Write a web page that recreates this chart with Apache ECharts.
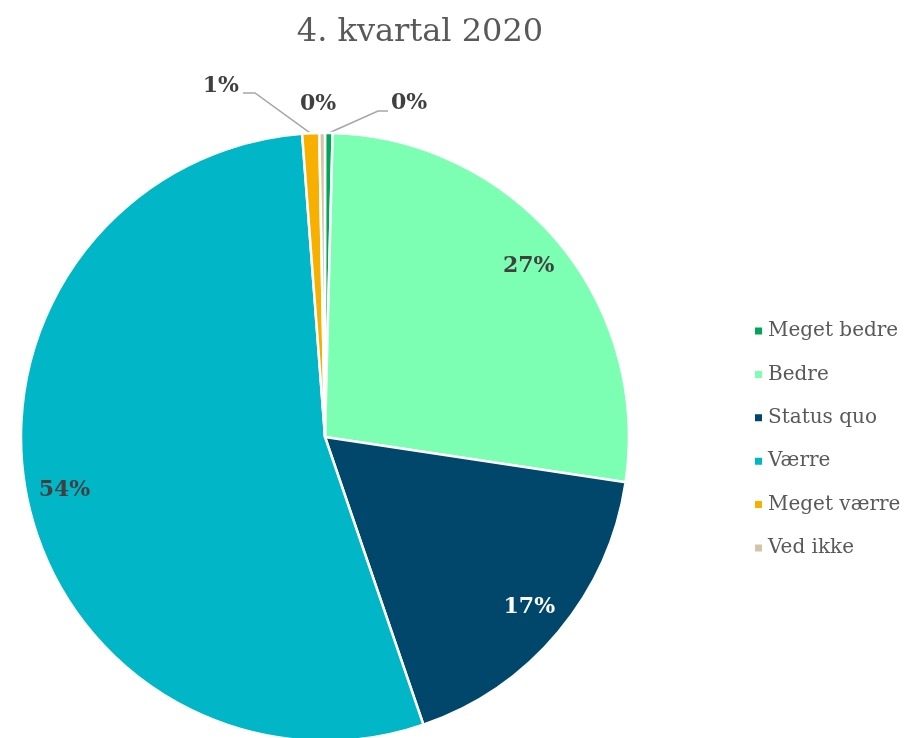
<!DOCTYPE html>
<html>
<head>
<meta charset="utf-8">
<script src="https://cdn.jsdelivr.net/npm/echarts@6/dist/echarts.min.js"></script>
<style>
html,body{margin:0;padding:0;background:#fff;}
#chart{width:904px;height:738px;}
</style>
</head>
<body>
<div id="chart"></div>
<script>
const titleText = '4. kvartal 2020';
const categories = ['Meget bedre', 'Bedre', 'Status quo', 'Værre', 'Meget værre', 'Ved ikke'];
const values = [0.4, 27.0, 17.4, 54.1, 0.9, 0.3];
const colors = ['#00A55A', '#7CFFB2', '#00476B', '#00B6C7', '#F7B000', '#D3C3A7'];
const labelColors = ['#404040', '#404040', '#ffffff', '#404040', '#404040', '#404040'];

const FONT = '"DejaVu Serif", "Liberation Serif", serif';
const CX = 325, CY = 437, R = 304;
const fmt = p => Math.round(p.percent) + '%';
const labelStyle = { fontFamily: FONT, fontWeight: 'bold', fontSize: 22, color: '#404040', formatter: fmt };

const total = values.reduce((a, b) => a + b, 0);
// point on the rim at the middle angle of slice i
function rimPoint(i) {
  let cum = 0;
  for (let k = 0; k < i; k++) cum += values[k];
  const a = (cum + values[i] / 2) / total * 2 * Math.PI;
  return [CX + R * Math.sin(a), CY - R * Math.cos(a)];
}

const mainData = categories.map((name, i) => {
  const item = { name: name, value: values[i], itemStyle: { color: colors[i] } };
  if (i === 0 || i === 4 || i === 5) {
    item.label = { show: true, position: 'outside' };
    item.labelLine = { show: i !== 5 };
  }
  return item;
});
const innerData = categories.map((name, i) => ({
  name: name, value: values[i],
  itemStyle: { color: 'rgba(0,0,0,0)', borderWidth: 0 },
  label: { show: i >= 1 && i <= 3, color: labelColors[i] }
}));

const chart = echarts.init(document.getElementById('chart'), null, { renderer: 'canvas' });
chart.setOption({
  animation: false,
  backgroundColor: '#ffffff',
  color: colors,
  title: {
    text: titleText, left: 415, top: 12, textAlign: 'center',
    textStyle: { fontFamily: FONT, fontWeight: 'normal', fontSize: 32, color: '#595959' }
  },
  legend: {
    orient: 'vertical', left: 748, top: 315,
    itemWidth: 9, itemHeight: 9, itemGap: 21.4,
    icon: 'rect',
    data: categories,
    textStyle: { fontFamily: FONT, fontSize: 20, lineHeight: 22, color: '#595959' }
  },
  series: [
    {
      type: 'pie', name: 'main',
      center: [CX, CY], radius: R,
      startAngle: 90, clockwise: true,
      avoidLabelOverlap: false,
      itemStyle: { borderColor: '#ffffff', borderWidth: 2.5 },
      label: Object.assign({ show: false }, labelStyle),
      labelLine: { lineStyle: { color: '#A6A6A6', width: 1.5 }, smooth: false },
      labelLayout: function (p) {
        const i = p.dataIndex;
        if (i === 0) {
          const s = rimPoint(0);
          return { x: 391, y: 103, align: 'left', verticalAlign: 'middle',
                   labelLinePoints: [s, [378, 111], [388, 111]] };
        }
        if (i === 4) {
          const s = rimPoint(4);
          return { x: 239, y: 86, align: 'right', verticalAlign: 'middle',
                   labelLinePoints: [s, [255, 93], [243, 93]] };
        }
        if (i === 5) return { x: 318, y: 104, align: 'center', verticalAlign: 'middle' };
        return {};
      },
      emphasis: { disabled: true },
      data: mainData
    },
    {
      type: 'pie', name: 'labels', silent: true,
      center: [CX, CY], radius: [222, R],
      startAngle: 90, clockwise: true,
      avoidLabelOverlap: false,
      label: Object.assign({ position: 'inside' }, labelStyle),
      labelLine: { show: false },
      emphasis: { disabled: true },
      data: innerData
    }
  ]
});
</script>
</body>
</html>
